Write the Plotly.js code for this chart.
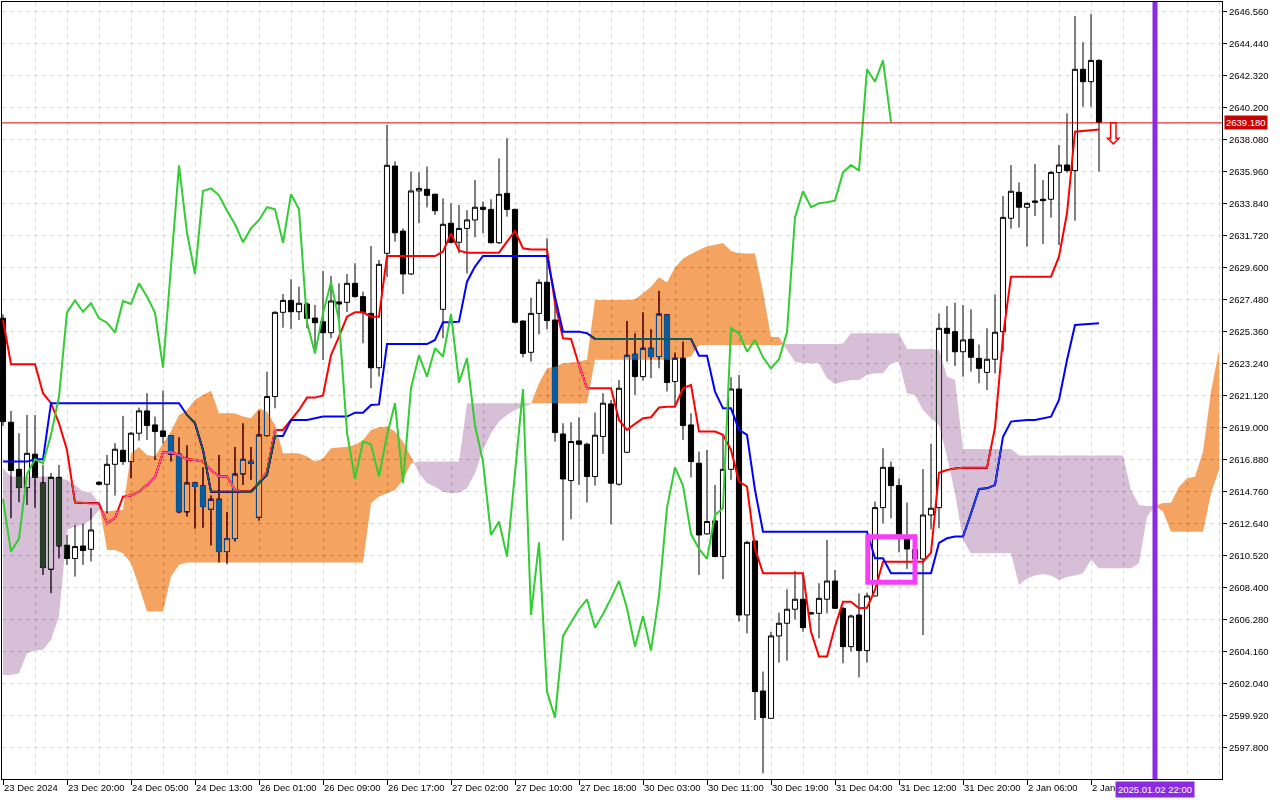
<!DOCTYPE html>
<html>
<head>
<meta charset="utf-8">
<script src="https://cdn.plot.ly/plotly-3.0.1.min.js"></script>
<style>
html,body{margin:0;padding:0;background:#fff;}
#chart{width:1280px;height:800px;}
#chart .cartesianlayer *{clip-path:none !important; isolation:auto !important;}
#chart path.js-fill{mix-blend-mode:difference;}
</style>
</head>
<body>
<div id="chart"></div>
<script>
// ---- XAUUSD H1 candles (bar index 0..137) ----
const open = [2626.24,2619.35,2616.23,2615.02,2617.23,2615.33,2609.61,2615.70,2611.20,2610.32,2611.15,2610.93,2615.37,2615.24,2616.56,2617.49,2616.74,2618.62,2620.10,2619.17,2618.77,2618.46,2617.23,2613.41,2615.33,2615.13,2613.58,2614.25,2610.78,2611.64,2615.92,2616.76,2613.05,2618.46,2621.05,2626.63,2627.42,2626.67,2627.18,2626.25,2626.01,2625.28,2627.32,2627.29,2628.55,2627.67,2626.56,2622.96,2630.54,2636.32,2632.01,2629.17,2634.67,2634.78,2634.45,2626.83,2632.53,2631.27,2632.19,2632.75,2633.59,2633.45,2631.24,2634.51,2633.45,2626.05,2623.98,2626.56,2628.62,2626.12,2618.57,2615.48,2618.11,2617.89,2615.75,2618.40,2620.56,2615.24,2617.36,2623.85,2622.37,2624.25,2623.70,2626.46,2622.04,2623.59,2619.17,2616.63,2611.95,2612.81,2610.45,2616.23,2621.55,2606.58,2611.48,2601.54,2599.73,2605.19,2606.03,2606.96,2607.62,2606.73,2606.69,2607.62,2608.83,2607.02,2604.48,2606.58,2604.22,2607.84,2613.69,2616.36,2615.15,2611.61,2610.90,2610.29,2613.20,2613.69,2625.57,2625.35,2624.02,2624.84,2623.58,2622.65,2623.52,2625.35,2632.86,2634.58,2633.59,2634.01,2634.12,2634.12,2635.90,2636.39,2636.02,2642.73,2641.91,2643.32];
const high = [2626.50,2620.10,2618.62,2619.83,2619.83,2616.52,2615.99,2616.52,2611.88,2612.52,2612.61,2613.65,2615.45,2617.18,2617.96,2619.77,2618.70,2620.32,2621.27,2619.72,2621.44,2618.50,2618.35,2617.82,2615.40,2616.37,2614.50,2617.18,2613.41,2617.71,2619.28,2617.71,2620.10,2622.70,2626.70,2627.84,2628.82,2628.33,2627.30,2627.12,2629.37,2629.04,2628.55,2629.17,2629.88,2628.00,2631.02,2630.10,2639.04,2636.63,2632.19,2635.95,2635.90,2636.28,2634.50,2634.18,2633.85,2633.74,2633.40,2635.40,2633.96,2634.12,2636.83,2638.16,2633.50,2626.10,2627.60,2628.82,2631.53,2627.34,2619.28,2619.35,2619.68,2618.00,2619.99,2621.27,2620.83,2622.15,2626.06,2625.24,2626.63,2625.51,2628.05,2626.50,2623.96,2624.69,2619.94,2617.40,2617.51,2615.20,2618.44,2622.33,2622.48,2611.50,2611.50,2602.83,2605.47,2606.73,2608.28,2609.49,2609.34,2606.80,2608.68,2611.55,2609.56,2607.10,2606.60,2608.01,2608.06,2614.09,2617.62,2616.74,2615.63,2614.02,2611.60,2616.25,2617.91,2626.56,2627.05,2627.27,2627.11,2626.83,2624.50,2625.57,2627.82,2634.34,2636.39,2635.24,2633.90,2636.46,2635.40,2636.00,2637.72,2639.81,2646.26,2644.52,2646.39,2643.40];
const low = [2619.10,2612.99,2614.05,2613.87,2613.69,2609.23,2608.02,2610.32,2609.90,2609.12,2609.90,2610.12,2615.15,2613.32,2614.49,2616.52,2615.64,2618.13,2618.18,2616.85,2617.96,2616.74,2613.32,2613.10,2612.30,2612.35,2611.18,2610.05,2609.94,2611.44,2615.20,2615.53,2612.83,2618.40,2620.27,2625.61,2625.53,2626.12,2625.57,2623.91,2623.47,2624.91,2626.21,2626.65,2627.60,2624.58,2621.60,2622.37,2628.99,2631.31,2627.84,2629.10,2632.53,2633.58,2633.08,2624.91,2631.20,2630.54,2629.21,2631.60,2631.86,2631.20,2631.16,2632.97,2625.90,2623.65,2623.36,2625.17,2625.50,2618.06,2611.51,2612.92,2615.20,2614.03,2615.15,2617.25,2612.59,2615.15,2617.30,2621.16,2622.11,2622.26,2622.92,2621.38,2620.38,2618.18,2615.70,2609.23,2611.90,2610.40,2608.95,2615.53,2606.14,2605.36,2599.62,2596.09,2599.70,2603.42,2603.55,2606.29,2605.47,2606.60,2605.03,2606.69,2607.00,2603.38,2604.15,2602.45,2603.42,2607.80,2612.65,2612.98,2610.73,2609.63,2609.80,2605.25,2612.25,2612.32,2623.36,2623.07,2622.37,2622.70,2621.93,2621.48,2622.59,2624.03,2632.17,2632.24,2630.98,2633.01,2631.16,2632.90,2631.09,2635.88,2632.70,2640.25,2640.25,2635.95];
const close = [2619.39,2616.15,2615.02,2617.29,2615.70,2609.72,2615.70,2611.15,2610.32,2611.11,2610.85,2612.21,2615.24,2616.56,2617.56,2616.74,2618.62,2620.10,2619.13,2618.73,2618.40,2617.23,2613.41,2615.33,2615.09,2613.76,2614.25,2610.78,2611.64,2615.92,2616.89,2616.63,2618.51,2621.05,2626.63,2627.42,2626.67,2627.23,2626.23,2625.94,2625.28,2627.38,2627.18,2628.55,2627.67,2626.61,2622.96,2629.81,2636.37,2631.90,2629.17,2634.67,2634.84,2634.38,2633.36,2632.46,2631.27,2632.19,2632.75,2633.59,2633.45,2631.24,2634.45,2633.45,2625.97,2623.91,2626.56,2628.62,2626.08,2618.66,2615.59,2618.07,2617.89,2615.75,2618.49,2620.61,2615.31,2621.60,2623.78,2622.37,2624.25,2623.70,2626.52,2621.98,2623.59,2619.13,2616.74,2611.88,2612.77,2610.45,2616.23,2621.55,2606.58,2611.39,2601.50,2599.78,2605.19,2606.03,2606.96,2607.62,2605.74,2606.65,2607.68,2608.83,2607.02,2604.48,2606.51,2604.22,2607.84,2613.69,2616.36,2615.15,2611.94,2610.95,2610.30,2613.20,2613.65,2625.57,2625.24,2624.02,2624.80,2623.65,2622.92,2623.52,2625.31,2632.92,2634.65,2633.59,2633.85,2633.92,2634.03,2635.90,2636.39,2636.02,2642.73,2641.91,2643.32,2639.22];

// ---- Ichimoku lines ----
const tenkan = [2626.12,2623.19,2623.19,2623.19,2623.19,2621.27,2620.61,2619.28,2617.51,2614.03,2613.98,2613.98,2613.98,2612.66,2612.99,2614.42,2614.49,2614.75,2615.20,2615.70,2617.36,2617.36,2617.18,2616.89,2616.85,2616.74,2616.19,2615.75,2615.75,2614.87,2614.75,2614.75,2615.35,2616.08,2618.84,2618.84,2619.50,2620.16,2620.98,2620.98,2621.13,2623.80,2625.02,2626.34,2626.63,2626.63,2626.34,2626.34,2630.36,2630.36,2630.36,2630.36,2630.36,2630.36,2630.36,2630.65,2631.86,2630.71,2630.58,2630.58,2630.58,2630.58,2630.58,2631.31,2632.02,2630.87,2630.80,2630.80,2630.80,2627.23,2624.91,2624.87,2623.14,2621.60,2621.60,2621.60,2621.60,2619.50,2618.84,2619.24,2619.61,2619.68,2620.32,2620.38,2620.38,2621.60,2621.82,2618.73,2618.73,2618.73,2618.51,2617.51,2615.42,2615.09,2611.00,2609.34,2609.34,2609.34,2609.34,2609.34,2609.34,2605.47,2603.82,2603.82,2605.81,2607.46,2607.46,2607.02,2607.06,2608.24,2610.11,2610.11,2610.11,2610.11,2610.11,2610.11,2610.71,2616.00,2616.18,2616.29,2616.34,2616.34,2616.34,2616.34,2619.00,2625.02,2628.99,2628.99,2628.99,2628.99,2628.99,2628.99,2630.32,2633.19,2638.60,2638.66,2638.71,2638.75];
const kijun = [2616.74,2616.74,2616.74,2616.74,2616.89,2616.89,2620.61,2620.61,2620.61,2620.61,2620.61,2620.61,2620.61,2620.61,2620.61,2620.61,2620.61,2620.61,2620.61,2620.61,2620.61,2620.61,2620.61,2619.83,2619.28,2617.51,2614.75,2614.75,2614.75,2614.75,2614.75,2614.75,2615.31,2615.86,2618.44,2618.44,2619.50,2619.50,2619.50,2619.61,2619.72,2619.72,2619.72,2619.72,2619.98,2619.98,2620.49,2620.53,2624.53,2624.53,2624.53,2624.53,2624.53,2624.53,2624.80,2625.97,2625.97,2626.01,2628.66,2629.66,2630.36,2630.36,2630.36,2630.36,2630.36,2630.36,2630.36,2630.36,2630.36,2627.67,2625.35,2625.35,2625.35,2625.24,2624.87,2624.87,2624.87,2624.87,2624.87,2624.87,2624.87,2624.87,2624.87,2624.87,2624.87,2624.87,2624.87,2623.76,2623.76,2621.38,2620.27,2620.27,2618.84,2618.51,2614.86,2612.10,2612.10,2612.10,2612.10,2612.10,2612.10,2612.10,2612.10,2612.10,2612.10,2612.10,2612.10,2612.10,2612.10,2610.33,2610.33,2609.34,2609.34,2609.34,2609.34,2609.34,2609.34,2611.35,2611.66,2611.77,2611.77,2613.31,2614.93,2614.97,2615.19,2618.39,2619.39,2619.45,2619.50,2619.50,2619.60,2619.72,2620.82,2623.47,2625.79,2625.84,2625.86,2625.90];
// Senkou spans, bar 0..152 (26 bars ahead of last candle)
const senkouA = [2602.61,2602.61,2602.72,2604.05,2604.22,2604.27,2604.93,2606.47,2612.22,2612.44,2612.55,2612.88,2613.54,2613.43,2613.50,2613.55,2617.29,2617.69,2617.18,2617.07,2617.96,2618.73,2619.83,2620.16,2620.83,2621.16,2621.44,2619.94,2619.94,2619.94,2619.72,2619.61,2620.27,2620.05,2619.17,2617.29,2617.29,2617.29,2617.07,2616.74,2616.96,2617.62,2617.68,2617.73,2617.84,2618.17,2618.84,2619.01,2619.06,2618.73,2618.06,2617.07,2615.97,2615.30,2615.08,2614.75,2614.64,2614.68,2614.97,2615.97,2617.51,2618.62,2619.39,2619.83,2620.16,2620.38,2620.56,2621.93,2622.92,2623.03,2623.25,2623.30,2623.37,2623.48,2627.45,2627.45,2627.45,2627.45,2627.45,2627.50,2627.90,2628.33,2628.95,2628.60,2629.60,2630.20,2630.50,2630.76,2631.00,2631.10,2631.22,2630.70,2630.55,2630.53,2630.53,2628.00,2625.01,2625.00,2624.13,2623.36,2623.25,2623.25,2623.25,2622.26,2621.88,2622.03,2622.14,2622.14,2622.48,2622.59,2622.59,2623.25,2623.36,2621.26,2621.15,2620.16,2619.61,2619.17,2617.07,2614.64,2611.55,2610.66,2610.66,2610.66,2610.66,2610.66,2610.66,2608.57,2609.00,2609.20,2609.30,2609.20,2608.90,2609.10,2609.20,2609.34,2610.22,2609.67,2609.67,2609.67,2609.67,2609.67,2610.00,2613.09,2613.80,2614.00,2614.02,2615.08,2615.63,2615.74,2617.40,2621.38,2624.14];
const senkouB = [2616.30,2615.75,2615.75,2615.75,2615.75,2615.75,2615.75,2615.64,2615.53,2615.20,2614.75,2614.69,2613.98,2610.89,2610.89,2610.67,2610.01,2608.46,2606.81,2606.81,2606.81,2609.12,2609.90,2610.05,2610.05,2610.05,2610.05,2610.05,2610.05,2610.05,2610.05,2610.05,2610.05,2610.05,2610.05,2610.05,2610.05,2610.05,2610.05,2610.05,2610.05,2610.05,2610.05,2610.05,2610.05,2610.05,2613.98,2614.42,2614.64,2614.86,2615.52,2616.63,2616.74,2616.74,2616.74,2616.74,2616.74,2616.74,2620.60,2620.60,2620.60,2620.60,2620.60,2620.60,2620.60,2620.60,2620.60,2620.60,2620.60,2620.60,2620.60,2620.60,2620.60,2620.60,2623.48,2623.48,2623.48,2623.48,2623.48,2623.48,2623.48,2623.48,2623.48,2623.48,2623.48,2623.60,2623.70,2624.47,2624.47,2624.47,2624.47,2624.47,2624.47,2624.47,2624.47,2624.47,2624.47,2624.47,2624.53,2624.53,2624.53,2624.53,2624.53,2624.53,2624.53,2624.57,2625.24,2625.24,2625.24,2625.24,2625.24,2625.24,2625.24,2624.20,2624.20,2624.20,2624.20,2624.13,2622.37,2622.15,2617.57,2617.57,2617.57,2617.57,2617.57,2617.57,2617.57,2617.15,2617.15,2617.15,2617.15,2617.15,2617.15,2617.15,2617.15,2617.15,2617.15,2617.15,2617.15,2617.15,2617.15,2614.86,2613.87,2613.80,2613.80,2613.43,2612.10,2612.10,2612.10,2612.10,2612.10,2614.64,2616.19];
const chikouShift = 26;

// ---- axis labels ----
const xTickText = ['23 Dec 2024','23 Dec 20:00','24 Dec 05:00','24 Dec 13:00','26 Dec 01:00','26 Dec 09:00','26 Dec 17:00','27 Dec 02:00','27 Dec 10:00','27 Dec 18:00','30 Dec 03:00','30 Dec 11:00','30 Dec 19:00','31 Dec 04:00','31 Dec 12:00','31 Dec 20:00','2 Jan 06:00','2 Jan'];
const xTickEvery = 8;
const yTickText = ['2597.800','2599.920','2602.040','2604.160','2606.280','2608.400','2610.520','2612.640','2614.760','2616.880','2619.000','2621.120','2623.240','2625.360','2627.480','2629.600','2631.720','2633.840','2635.960','2638.080','2640.200','2642.320','2644.440','2646.560'];

// ---- objects on chart ----
const bidPrice = 2639.18;
const bidLabel = '2639.180';
const futureBar = 144;
const futureLabel = '2025.01.02 22:00';
const sellSignalX = [138.8];
const sellSignalY = [2638.25];
const boxBars = [108.1, 114.0];
const boxPrices = [2608.74, 2611.76];

// ---- build ----
const bars = close.map((_, i) => i);
const cloudBars = senkouA.map((_, i) => i);
const xTickVals = xTickText.map((_, i) => i * xTickEvery);
const yTickVals = yTickText.map(Number);
const chikouX = bars.slice(chikouShift).map(i => i - chikouShift);
const chikouY = close.slice(chikouShift);

function cloudSeries(a, b) {
  const xs = [], av = [], bv = [];
  for (let i = 0; i < a.length; i++) {
    if (i > 0) {
      const d0 = a[i-1] - b[i-1], d1 = a[i] - b[i];
      if (d0 * d1 < 0) {
        const t = d0 / (d0 - d1);
        const v = a[i-1] + t * (a[i] - a[i-1]);
        xs.push(cloudBars[i-1] + t); av.push(v); bv.push(v);
      }
    }
    xs.push(cloudBars[i]); av.push(a[i]); bv.push(b[i]);
  }
  return {xs, av, bv};
}
const cs = cloudSeries(senkouA, senkouB);
const upper = cs.av.map((v, i) => Math.max(v, cs.bv[i]));
const polyX = cs.xs.concat(cs.xs.slice().reverse());
const orangeY = upper.concat(cs.bv.slice().reverse());
const thistleY = upper.concat(cs.av.slice().reverse());

const traces = [
  {type:'candlestick', x:bars, open:open, high:high, low:low, close:close,
   increasing:{line:{color:'#000', width:1}, fillcolor:'#ffffff'},
   decreasing:{line:{color:'#000', width:1}, fillcolor:'#000000'},
   whiskerwidth:0, hoverinfo:'skip'},
  {type:'scatter', mode:'lines', x:bars, y:tenkan, line:{color:'#ff0000', width:2}, hoverinfo:'skip'},
  {type:'scatter', mode:'lines', x:bars, y:kijun, line:{color:'#0000ff', width:2}, hoverinfo:'skip'},
  // cloud: inverse colours, blended by difference (sandybrown / thistle on white)
  {type:'scatter', mode:'none', x:polyX, y:orangeY, fill:'toself', fillcolor:'rgb(11,91,159)', hoverinfo:'skip'},
  {type:'scatter', mode:'none', x:polyX, y:thistleY, fill:'toself', fillcolor:'rgb(39,64,39)', hoverinfo:'skip'},
  {type:'scatter', mode:'lines', x:chikouX, y:chikouY, line:{color:'#32cd32', width:2}, hoverinfo:'skip'},
  {type:'scatter', mode:'text', x:sellSignalX, y:sellSignalY, text:['\u21e9'],
   textfont:{family:'DejaVu Sans', size:30, color:'#ff0000'}, hoverinfo:'skip'}
];

const font = {family:'Liberation Sans, Arial, sans-serif', size:9.5, color:'#000'};
const layout = {
  width:1280, height:800,
  margin:{l:2, r:58, t:2, b:21, pad:0},
  paper_bgcolor:'#ffffff', plot_bgcolor:'#ffffff',
  showlegend:false, font:font,
  boxgap:0.2, boxgroupgap:0.2,
  xaxis:{
    range:[-0.125, 152.375], rangeslider:{visible:false},
    tickmode:'array', tickvals:xTickVals, ticktext:xTickText, tickangle:0,
    ticks:'outside', ticklen:5, tickwidth:1, tickcolor:'#000',
    ticklabelposition:'outside right', tickfont:font,
    showgrid:true, gridcolor:'#dcdcdc', gridwidth:1, griddash:'4px,4px',
    minor:{tickmode:'linear', tick0:0, dtick:4, showgrid:true, gridcolor:'#dcdcdc', gridwidth:1, griddash:'4px,4px', ticks:''},
    showline:true, mirror:true, linecolor:'#000', linewidth:1, zeroline:false, fixedrange:true
  },
  yaxis:{
    side:'right', range:[2595.712, 2647.189],
    tickmode:'array', tickvals:yTickVals, ticktext:yTickText,
    ticks:'outside', ticklen:4, tickwidth:1, tickcolor:'#000', tickfont:font,
    showgrid:true, gridcolor:'#dcdcdc', gridwidth:1, griddash:'4px,4px',
    showline:true, mirror:true, linecolor:'#000', linewidth:1, zeroline:false, fixedrange:true
  },
  shapes:[
    {type:'line', xref:'paper', x0:0, x1:1, yref:'y', y0:bidPrice, y1:bidPrice, line:{color:'#e00000', width:1}, layer:'above'},
    {type:'line', xref:'x', x0:futureBar, x1:futureBar, yref:'paper', y0:0, y1:1, line:{color:'#8a2be2', width:5}, layer:'above'},
    {type:'rect', xref:'x', x0:boxBars[0], x1:boxBars[1], yref:'y', y0:boxPrices[0], y1:boxPrices[1], line:{color:'#f43ff4', width:5}, fillcolor:'rgba(0,0,0,0)', layer:'above'}
  ],
  annotations:[
    {xref:'paper', x:1, xanchor:'left', xshift:2, yref:'y', y:bidPrice, yanchor:'middle', text:bidLabel, showarrow:false,
     font:{family:font.family, size:9.5, color:'#ffffff'}, bgcolor:'#c80000', borderpad:1},
    {xref:'x', x:futureBar, xanchor:'center', yref:'paper', y:0, yanchor:'top', yshift:-2, text:futureLabel, showarrow:false,
     font:{family:font.family, size:9.5, color:'#ffffff'}, bgcolor:'#8a2be2', borderpad:2}
  ]
};

function applyBlend(gd) {
  const svg = gd.querySelector('svg.main-svg');
  svg.querySelectorAll('[clip-path]').forEach(el => {
    if (el.closest('.cartesianlayer')) el.removeAttribute('clip-path');
  });
  gd.querySelectorAll('path.js-fill').forEach(p => { p.style.mixBlendMode = 'difference'; });
}
Plotly.newPlot('chart', traces, layout, {staticPlot:true, displayModeBar:false}).then(gd => {
  applyBlend(gd);
  setTimeout(() => applyBlend(gd), 50);
});
</script>
</body>
</html>
